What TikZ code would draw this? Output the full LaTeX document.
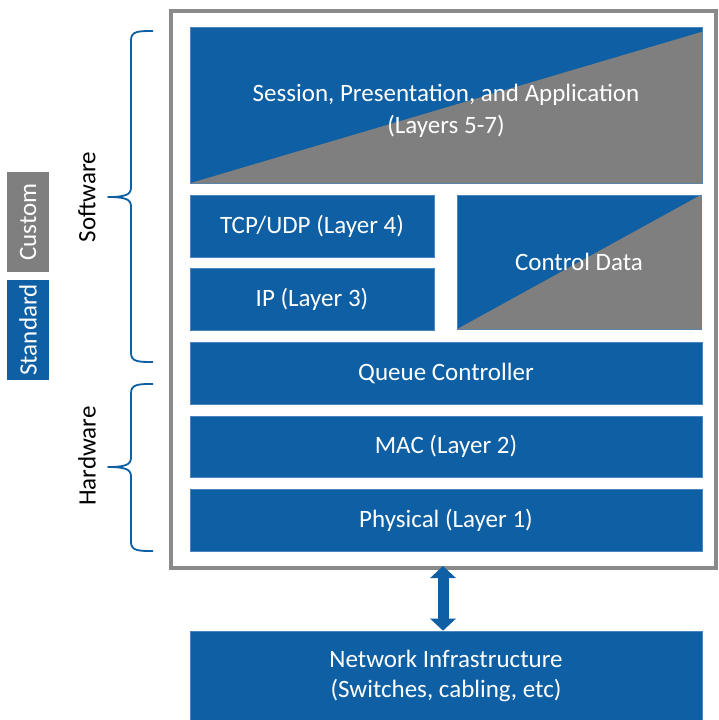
\documentclass[tikz,border=0pt]{standalone}
\usepackage{fontspec}
\setmainfont{Carlito}
\usetikzlibrary{arrows.meta}
\definecolor{netblue}{HTML}{0E5FA3}
\definecolor{edgeblue}{HTML}{4A86C0}
\definecolor{netgray}{HTML}{7F7F7F}
\definecolor{framegray}{HTML}{8A8A8A}
\tikzset{
  layer/.style={fill=netblue, draw=edgeblue, line width=0.6pt, inner sep=0pt,
    text=white, font=\fontsize{25}{30}\selectfont, align=center},
  legendbox/.style={inner sep=0pt, minimum width=100pt, minimum height=42pt,
    text=white, font=\fontsize{25}{30}\selectfont, rotate=90},
  brace/.style={draw=netblue, line width=1.8pt, line join=round},
  sidelabel/.style={font=\fontsize{25}{30}\selectfont, rotate=90}
}
\begin{document}
\begin{tikzpicture}[x=1pt, y=-1pt]
\useasboundingbox (0,0) rectangle (718,720);
\fill[white] (0,0) rectangle (718,720);

% outer frame around the stack
\node[draw=framegray, line width=4pt, inner sep=0pt, minimum width=545pt,
      minimum height=557pt] (frame) at (443,289.5) {};

% session / presentation / application, half standard half custom
\node[layer, minimum width=512pt, minimum height=156pt] (app) at (446,105) {};
\fill[netgray] (app.south west) -- ([yshift=-5pt]app.north east) -- (app.south east) -- cycle;
\node[text=white, font=\fontsize{25}{32}\selectfont, align=center] (apptext) at (446,111)
  {Session, Presentation, and Application\\(Layers 5-7)};

% transport and network layers
\node[layer, minimum width=244pt, minimum height=62pt] (tcp) at (312,226) {TCP/UDP (Layer 4)};
\node[layer, minimum width=244pt, minimum height=62pt] (ip) at (312,299) {IP (Layer 3)};

% control data, half standard half custom
\node[layer, minimum width=244pt, minimum height=134pt] (ctrl) at (579,262) {};
\fill[netgray] (ctrl.south west) -- (ctrl.north east) -- (ctrl.south east) -- cycle;
\node[text=white, font=\fontsize{25}{30}\selectfont] (ctrltext) at (579,262) {Control Data};

% hardware side of the stack
\node[layer, minimum width=512pt, minimum height=62pt] (queue) at (446,373) {Queue Controller};
\node[layer, minimum width=512pt, minimum height=61pt] (mac) at (446,446.5) {MAC (Layer 2)};
\node[layer, minimum width=512pt, minimum height=62pt] (phys) at (446,520) {Physical (Layer 1)};

% network below the device
\node[layer, minimum width=512pt, minimum height=90pt, font=\fontsize{25}{30}\selectfont]
  (net) at (446,676) {Network Infrastructure\\(Switches, cabling, etc)};

\draw[netblue, line width=11pt,
      {Triangle[width=25pt,length=12pt]}-{Triangle[width=25pt,length=12pt]}]
  ([yshift=4pt]frame.south) -- (frame.south |- net.north);

% legend
\node[legendbox, fill=netgray] (custom) at (28,222) {Custom};
\node[legendbox, fill=netblue] (standard) at (28,330) {Standard};

% software / hardware braces
\draw[brace] (153,31) .. controls (139,31) and (131,31) .. (131,40) -- (131,188)
  .. controls (131,195) and (124,197) .. (108,197)
  .. controls (124,197) and (131,199) .. (131,206) -- (131,353)
  .. controls (131,362) and (139,362) .. (153,362);
\node[sidelabel] (software) at (87,197) {Software};

\draw[brace] (153,384) .. controls (139,384) and (131,384) .. (131,393) -- (131,458)
  .. controls (131,465) and (124,467) .. (108,467)
  .. controls (124,467) and (131,469) .. (131,476) -- (131,542)
  .. controls (131,551) and (139,551) .. (153,551);
\node[sidelabel] (hardware) at (87,456) {Hardware};
\end{tikzpicture}
\end{document}
